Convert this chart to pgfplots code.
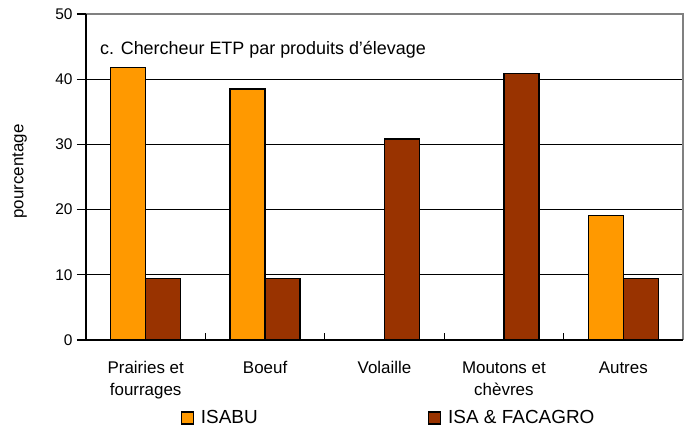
\documentclass[border=0pt]{standalone}
\usepackage{pgfplots}
\pgfplotsset{compat=1.18}
\usepackage{fontspec}
\setmainfont{Liberation Sans}
\definecolor{isabu}{HTML}{FF9900}
\definecolor{isa}{HTML}{993300}
\definecolor{frame}{HTML}{808080}
\begin{document}
\begin{tikzpicture}
\begin{axis}[
  scale only axis, width=597bp, height=326bp,
  xmin=-0.5, xmax=4.5, ymin=0, ymax=50,
  clip=false,
  axis line style={draw=none},
  ytick={0,10,...,50},
  xtick={0,...,4},
  xticklabels={{Prairies et\\fourrages},Boeuf,Volaille,{Moutons et\\chèvres},Autres},
  minor xtick={0.5,1.5,2.5,3.5,4.5},
  xtick pos=bottom, ytick pos=left,
  tick align=outside,
  major tick length=9bp, minor tick length=7bp,
  major x tick style={draw=none},
  minor x tick style={black, line width=1.2bp, yshift=7bp},
  major y tick style={black, line width=1.2bp},
  ymajorgrids, grid style={black, line width=1.1bp},
  /pgf/number format/assume math mode=true,
  yticklabel style={font=\fontsize{15.5}{18}\selectfont, xshift=-1bp},
  xticklabel style={align=center, font=\fontsize{17}{22}\selectfont, yshift=-9bp},
  ylabel={pourcentage},
  ylabel style={at={(axis description cs:-0.111,0.517)}, anchor=center, font=\fontsize{17}{20}\selectfont},
  ybar=0pt, bar width=35bp,
  legend columns=2,
  legend style={draw=none, at={(axis description cs:0.153,-0.239)}, anchor=west,
    font=\fontsize{19}{22}\selectfont,
    /tikz/every even column/.append style={column sep=168bp}},
  legend image code/.code={\draw[#1, line width=1.4bp] (0bp,-6bp) rectangle (12bp,6bp); \path (17bp,0bp);},
]
\addplot[fill=isabu, draw=black, line width=1.5bp] coordinates {(0,41.8) (1,38.5) (4,19.1)};
\addlegendentry{ISABU}
\addplot[fill=isa, draw=black, line width=1.5bp] coordinates {(0,9.4) (1,9.4) (2,30.8) (3,40.9) (4,9.4)};
\addlegendentry{ISA \& FACAGRO}
\draw[frame, line width=1.3bp] (rel axis cs:0,1) -- (rel axis cs:1,1) -- (rel axis cs:1,0);
\draw[black, line width=1.5bp] (rel axis cs:0,1) -- (rel axis cs:0,0) -- (rel axis cs:1,0);
\node[anchor=base west, inner sep=0pt, font=\fontsize{18}{21}\selectfont] at (rel axis cs:0.0235,0.877) {c. Chercheur ETP par produits d'élevage};
\path (rel axis cs:0,0) ++(-86bp,-90bp) rectangle ++(696bp,430bp);
\end{axis}
\end{tikzpicture}
\end{document}
